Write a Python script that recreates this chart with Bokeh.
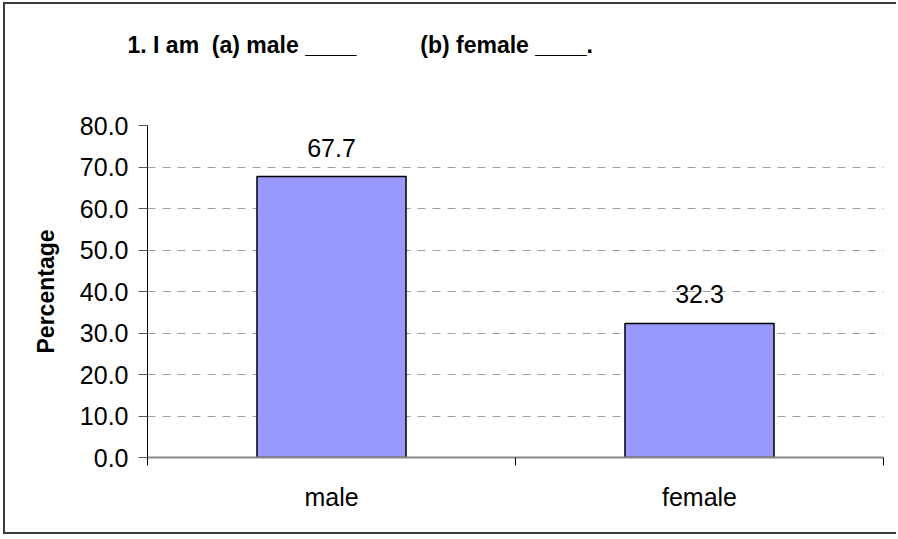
from bokeh.plotting import figure
from bokeh.models import (Range1d, FixedTicker, ColumnDataSource, LabelSet,
                          PrintfTickFormatter, Title)
from bokeh.core.properties import value
from bokeh.embed import file_html
from bokeh.resources import INLINE

# ---- data ----
categories = ["male", "female"]
percentages = [67.7, 32.3]
y_ticks = [0, 10, 20, 30, 40, 50, 60, 70, 80]
title_text = "1. I am  (a) male ____          (b) female ____."
y_label = "Percentage"

FONT = "Liberation Sans"


def keep_spaces(s):
    # SVG collapses runs of spaces: alternate with no-break spaces to keep the gaps
    out, prev_space = [], False
    for ch in s:
        if ch == " ":
            out.append("\u00a0" if prev_space else " ")
            prev_space = not prev_space
        else:
            out.append(ch)
            prev_space = False
    return "".join(out)


x_pos = [i + 0.5 for i in range(len(categories))]
bounds = list(range(len(categories) + 1))
source = ColumnDataSource(dict(x=x_pos, top=percentages,
                               label=["%.1f" % v for v in percentages]))

p = figure(width=893, height=532, output_backend="svg", toolbar_location=None,
           x_range=Range1d(0, len(categories)), y_range=Range1d(y_ticks[0], y_ticks[-1]),
           min_border_left=142, min_border_right=15, min_border_top=121,
           min_border_bottom=79)
p.outline_line_color = None
p.background_fill_color = "white"
p.border_fill_color = "white"
p.styles = {"border-left": "2px solid #3a3a3a", "border-top": "2px solid #3a3a3a",
            "border-bottom": "2px solid #3a3a3a", "margin-left": "3px",
            "margin-top": "2px"}

# title: a spacer panel next to the frame, then the title above it
p.add_layout(Title(text=" ", text_font_size="1px", standoff=60), "above")
p.add_layout(Title(text=keep_spaces(title_text), align="left", offset=-20, standoff=10,
                   text_font=FONT, text_font_size="23px", text_font_style="bold",
                   text_color="black"), "above")

# bars
p.vbar(x="x", top="top", bottom=0, width=0.405, source=source,
       fill_color="#9999FF", line_color="black", line_width=1.5)

# data labels
p.add_layout(LabelSet(x="x", y="top", text="label", source=source,
                      text_align="center", text_baseline="alphabetic", y_offset=20,
                      text_font=value(FONT), text_font_size=value("25px"),
                      text_color="black"))

# x axis
xa = p.xaxis[0]
xa.ticker = FixedTicker(ticks=x_pos, minor_ticks=bounds)
xa.major_label_overrides = {x: c for x, c in zip(x_pos, categories)}
xa.major_tick_line_color = None
xa.major_tick_out = 0
xa.major_tick_in = 0
xa.minor_tick_out = 8
xa.minor_tick_in = 0
xa.minor_tick_line_color = "black"
xa.minor_tick_line_width = 1
xa.axis_line_color = "#888888"
xa.axis_line_width = 2
xa.major_label_text_font = FONT
xa.major_label_text_font_size = "25px"
xa.major_label_text_color = "black"
xa.major_label_standoff = 17

# y axis
ya = p.yaxis[0]
ya.ticker = FixedTicker(ticks=y_ticks)
ya.formatter = PrintfTickFormatter(format="%.1f")
ya.axis_line_color = "black"
ya.axis_line_width = 1
ya.major_tick_out = 9
ya.major_tick_in = 0
ya.major_tick_line_color = "#555555"
ya.minor_tick_line_color = None
ya.major_label_text_font = FONT
ya.major_label_text_font_size = "25px"
ya.major_label_text_color = "black"
ya.major_label_standoff = 10
ya.axis_label = y_label
ya.axis_label_text_font = FONT
ya.axis_label_text_font_size = "23px"
ya.axis_label_text_font_style = "bold"
ya.axis_label_text_color = "black"
ya.axis_label_standoff = 18

# grid
p.xgrid.visible = False
p.ygrid.ticker = FixedTicker(ticks=y_ticks)
p.ygrid.grid_line_color = "#a0a0a0"
p.ygrid.grid_line_dash = "8 7"
p.ygrid.grid_line_width = 1

open("out.html", "w").write(file_html(p, INLINE))
